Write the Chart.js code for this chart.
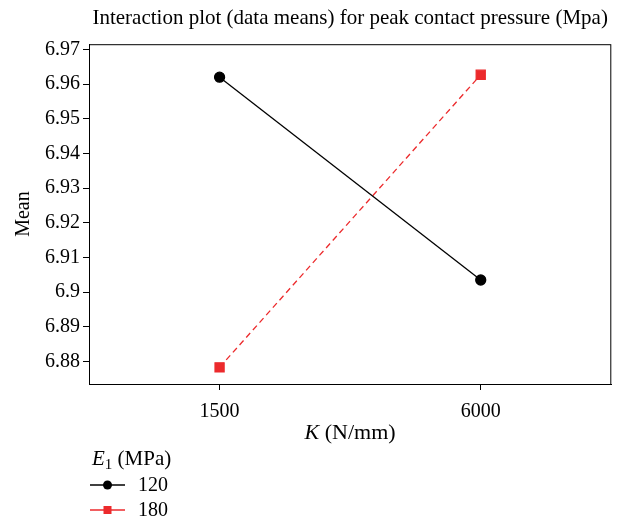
<!DOCTYPE html>
<html>
<head>
<meta charset="utf-8">
<script src="https://cdn.jsdelivr.net/npm/chart.js@4/dist/chart.umd.min.js"></script>
<style>
  html, body { margin: 0; padding: 0; background: #fff; }
  #wrap { position: relative; width: 619px; height: 516px; }
</style>
</head>
<body>
<div id="wrap"><canvas id="chart" width="619" height="516"></canvas></div>
<script>
const categories = ["1500", "6000"];
const seriesNames = ["120", "180"];
const mean120 = [6.962, 6.9035];
const mean180 = [6.8783, 6.9627];
const yTicks = [6.88, 6.89, 6.9, 6.91, 6.92, 6.93, 6.94, 6.95, 6.96, 6.97];

const FONT = "'Liberation Serif', 'Times New Roman', serif";
const FONT_SIZE = 20;

// box around the plot area plus the x-axis title and legend (mixed italic / subscript text)
const framePlugin = {
  id: "frame",
  afterDraw(chart) {
    const { ctx, chartArea: a } = chart;
    ctx.save();
    ctx.strokeStyle = "#000";
    ctx.lineWidth = 1;
    ctx.strokeRect(a.left + 0.5, a.top + 0.5, a.right - a.left - 1, a.bottom - a.top);

    // x-axis title: italic K followed by units
    ctx.fillStyle = "#000";
    ctx.textBaseline = "alphabetic";
    const cx = (a.left + a.right) / 2;
    const ty = a.bottom + 55;
    const tSize = 22;
    ctx.font = `italic ${tSize}px ${FONT}`;
    const kW = ctx.measureText("K").width;
    ctx.font = `${tSize}px ${FONT}`;
    const restW = ctx.measureText(" (N/mm)").width;
    const x = cx - (kW + restW) / 2;
    ctx.font = `italic ${tSize}px ${FONT}`;
    ctx.fillText("K", x, ty);
    ctx.font = `${tSize}px ${FONT}`;
    ctx.fillText(" (N/mm)", x + kW, ty);

    // legend title: E₁ (MPa)
    const lx = 92, ly = a.bottom + 81;
    const lSize = 21;
    ctx.font = `italic ${lSize}px ${FONT}`;
    ctx.fillText("E", lx, ly);
    const eW = ctx.measureText("E").width;
    ctx.font = `${lSize - 6}px ${FONT}`;
    ctx.fillText("1", lx + eW, ly + 4);
    const oneW = ctx.measureText("1").width;
    ctx.font = `${lSize}px ${FONT}`;
    ctx.fillText(" (MPa)", lx + eW + oneW, ly);

    // legend entries
    chart.data.datasets.forEach((ds, i) => {
      const y = ly + 20 + i * 25;
      ctx.strokeStyle = ds.borderColor;
      ctx.lineWidth = 1.5;
      ctx.setLineDash([]);
      ctx.beginPath();
      ctx.moveTo(90, y);
      ctx.lineTo(125, y);
      ctx.stroke();
      ctx.fillStyle = ds.pointBackgroundColor;
      if (ds.pointStyle === "rect") {
        ctx.fillRect(107.5 - 4, y - 4, 8, 8);
      } else {
        ctx.beginPath();
        ctx.arc(107.5, y, 4.5, 0, Math.PI * 2);
        ctx.fill();
      }
      ctx.fillStyle = "#000";
      ctx.font = `${FONT_SIZE}px ${FONT}`;
      ctx.textBaseline = "middle";
      ctx.fillText(ds.label, 138, y + 1);
      ctx.textBaseline = "alphabetic";
    });
    ctx.restore();
  },
};

new Chart(document.getElementById("chart"), {
  type: "line",
  data: {
    labels: categories,
    datasets: [
      {
        label: seriesNames[0],
        data: mean120,
        borderColor: "#000000",
        backgroundColor: "#000000",
        pointBackgroundColor: "#000000",
        pointBorderColor: "#000000",
        pointStyle: "circle",
        pointRadius: 5,
        borderWidth: 1.3,
        tension: 0,
      },
      {
        label: seriesNames[1],
        data: mean180,
        borderColor: "#ec2a2c",
        backgroundColor: "#ec2a2c",
        pointBackgroundColor: "#ec2a2c",
        pointBorderColor: "#ec2a2c",
        pointStyle: "rect",
        pointRadius: 6.4,
        borderWidth: 1.3,
        borderDash: [6, 4],
        tension: 0,
      },
    ],
  },
  options: {
    responsive: false,
    animation: false,
    devicePixelRatio: 1,
    layout: { padding: { left: 12, right: 0, top: 0, bottom: 82 } },
    plugins: {
      legend: { display: false },
      tooltip: { enabled: false },
      title: {
        display: true,
        fullSize: false,
        text: "Interaction plot (data means) for peak contact pressure (Mpa)",
        color: "#000",
        font: { family: FONT, size: 21, weight: "normal" },
        padding: { top: 6, bottom: 13 },
      },
    },
    scales: {
      x: {
        type: "category",
        offset: true,
        border: { color: "#000", width: 1 },
        grid: { drawOnChartArea: false, tickLength: 6, color: "#000", offset: false },
        ticks: { color: "#000", font: { family: FONT, size: FONT_SIZE }, padding: 10 },
      },
      y: {
        min: 6.8735,
        max: 6.9715,
        border: { color: "#000", width: 1 },
        grid: { drawOnChartArea: false, tickLength: 6, color: "#000" },
        afterBuildTicks: (scale) => {
          scale.ticks = yTicks.map((v) => ({ value: v }));
        },
        ticks: {
          color: "#000",
          font: { family: FONT, size: FONT_SIZE },
          padding: 3,
          callback: (value) => String(parseFloat(value.toFixed(2))),
        },
        title: {
          display: true,
          text: "Mean",
          color: "#000",
          font: { family: FONT, size: FONT_SIZE },
          padding: { top: 0, bottom: 6 },
        },
      },
    },
  },
  plugins: [framePlugin],
});
</script>
</body>
</html>
